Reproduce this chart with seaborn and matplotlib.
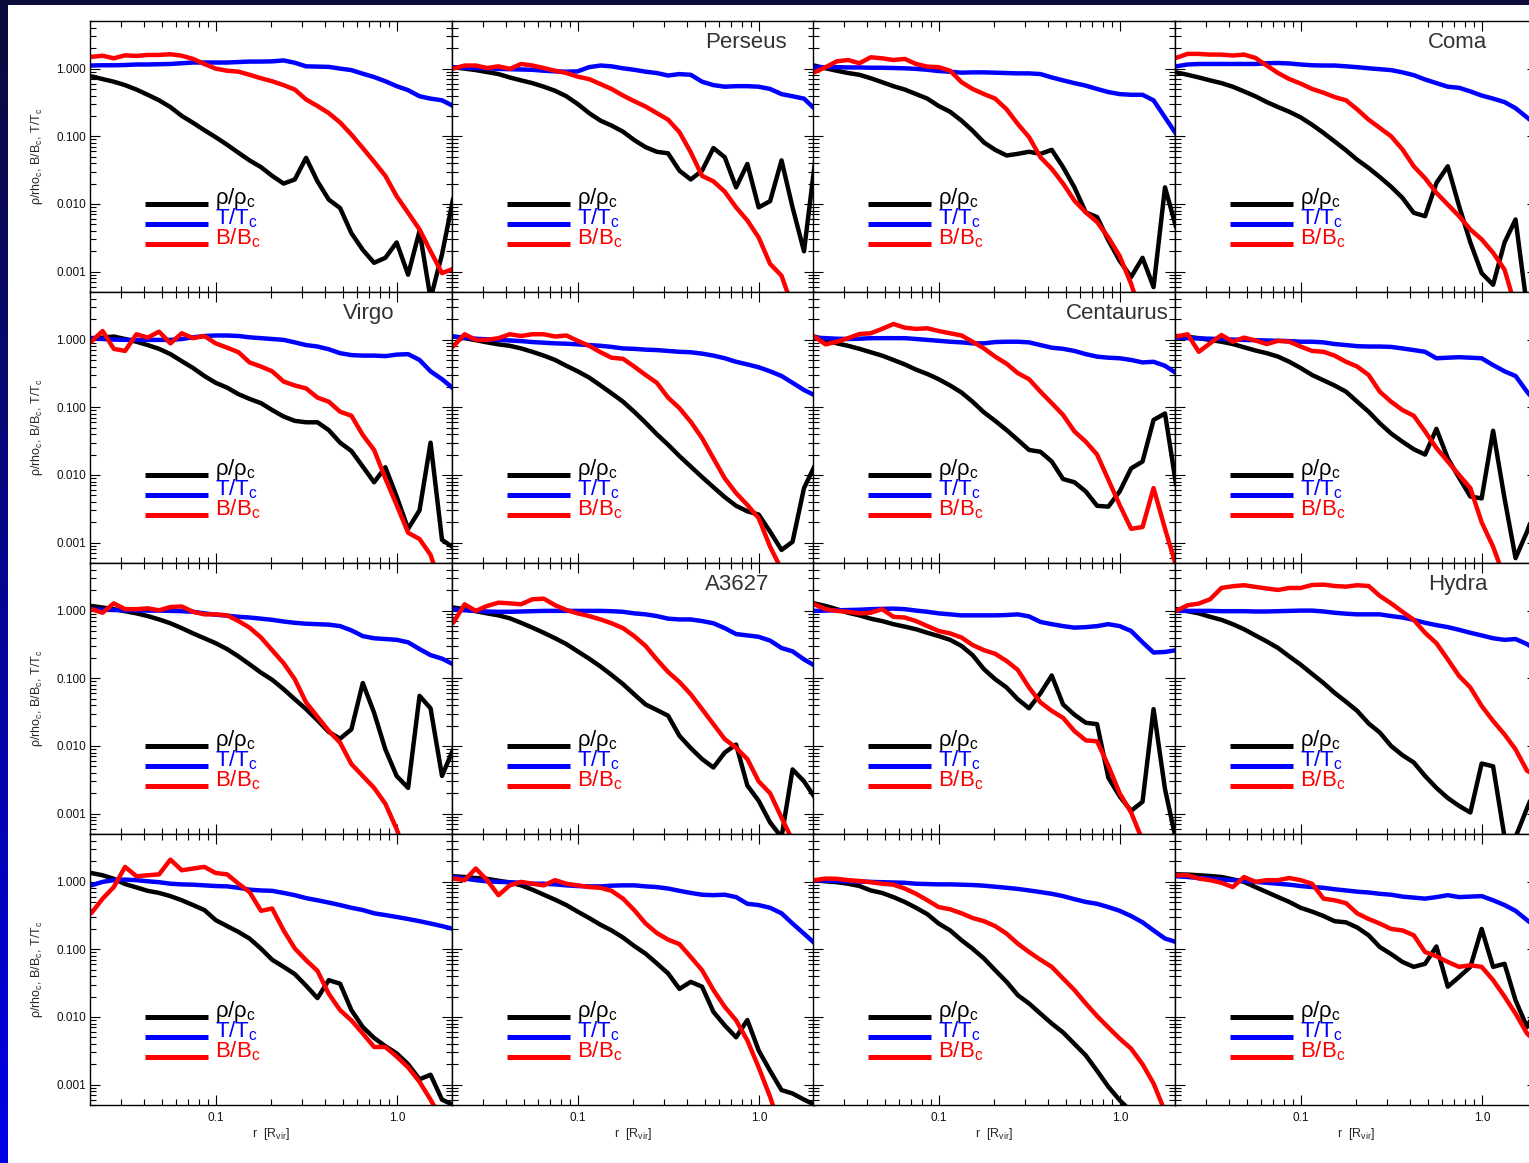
import numpy as np
import pandas as pd
import matplotlib
matplotlib.use("Agg")
import matplotlib.pyplot as plt
import seaborn as sns
from matplotlib.patches import Rectangle
from matplotlib.ticker import FixedLocator, FixedFormatter, NullFormatter

nan = np.nan

# radial bins in units of R_vir
r = [0.0204, 0.0236, 0.0272, 0.0314, 0.0363, 0.0419, 0.0484, 0.0559, 0.0646, 0.0746, 0.0861,
     0.0994, 0.115, 0.133, 0.153, 0.177, 0.204, 0.236, 0.272, 0.314, 0.363, 0.419,
     0.484, 0.559, 0.646, 0.746, 0.861, 0.994, 1.15, 1.33, 1.53, 1.77, 2.04]

# ---- row 0 ----
p00_rho = [0.77, 0.70, 0.64, 0.57, 0.49, 0.41, 0.34, 0.27, 0.20, 0.158, 0.123,
           0.097, 0.075, 0.057, 0.044, 0.035, 0.026, 0.020, 0.023, 0.048, 0.0216, 0.0116,
           0.0087, 0.0037, 0.0021, 0.00135, 0.0016, 0.0027, 0.0009, 0.004, 0.0004, 0.0018, 0.012]
p00_T = [1.11, 1.12, 1.12, 1.13, 1.15, 1.15, 1.16, 1.17, 1.20, 1.23, 1.23,
         1.23, 1.23, 1.25, 1.27, 1.27, 1.28, 1.32, 1.22, 1.08, 1.07, 1.06,
         1.0, 0.95, 0.84, 0.75, 0.65, 0.55, 0.48, 0.39, 0.36, 0.34, 0.28]
p00_B = [1.49, 1.55, 1.42, 1.57, 1.54, 1.59, 1.59, 1.63, 1.55, 1.39, 1.17,
         1.0, 0.93, 0.90, 0.81, 0.72, 0.65, 0.57, 0.49, 0.35, 0.28, 0.22,
         0.16, 0.106, 0.067, 0.042, 0.026, 0.013, 0.0074, 0.0042, 0.0020, 0.00095, 0.0011]

p01_rho = [1.05, 1.0, 0.95, 0.89, 0.83, 0.74, 0.67, 0.61, 0.54, 0.47, 0.39,
           0.30, 0.22, 0.17, 0.144, 0.117, 0.088, 0.069, 0.059, 0.056, 0.031, 0.023,
           0.031, 0.067, 0.049, 0.0176, 0.039, 0.0089, 0.011, 0.044, 0.0089, 0.0020, 0.044]
p01_T = [1.05, 1.03, 1.02, 1.01, 0.99, 0.98, 0.97, 0.96, 0.93, 0.91, 0.90,
         0.91, 1.05, 1.11, 1.08, 1.01, 0.96, 0.90, 0.86, 0.79, 0.83, 0.81,
         0.64, 0.57, 0.54, 0.55, 0.55, 0.54, 0.50, 0.42, 0.39, 0.36, 0.25]
p01_B = [1.0, 1.11, 1.11, 1.02, 1.08, 0.99, 1.17, 1.11, 1.02, 0.93, 0.86,
         0.76, 0.70, 0.59, 0.50, 0.40, 0.33, 0.275, 0.22, 0.176, 0.115, 0.058,
         0.026, 0.0216, 0.0152, 0.0089, 0.0057, 0.0032, 0.0013, 0.00087, 0.0003, nan, nan]

p02_rho = [1.11, 1.01, 0.93, 0.86, 0.81, 0.72, 0.63, 0.55, 0.49, 0.42, 0.36,
           0.28, 0.23, 0.17, 0.121, 0.081, 0.063, 0.052, 0.055, 0.059, 0.055, 0.063,
           0.035, 0.0176, 0.0075, 0.0064, 0.0029, 0.00145, 0.00083, 0.0016, 0.00059, 0.0176, 0.0045]
p02_T = [1.05, 1.05, 1.05, 1.04, 1.04, 1.03, 1.03, 1.02, 1.01, 0.99, 0.96,
         0.92, 0.90, 0.87, 0.88, 0.88, 0.87, 0.86, 0.85, 0.85, 0.83, 0.74,
         0.67, 0.61, 0.56, 0.50, 0.45, 0.42, 0.41, 0.41, 0.34, 0.19, 0.108]
p02_B = [0.88, 1.05, 1.28, 1.34, 1.20, 1.47, 1.42, 1.34, 1.39, 1.17, 1.07,
         1.05, 0.93, 0.63, 0.50, 0.42, 0.36, 0.25, 0.152, 0.097, 0.049, 0.033,
         0.020, 0.0112, 0.0075, 0.0054, 0.0032, 0.0017, 0.00066, 0.0002, nan, nan, nan]

p03_rho = [0.88, 0.81, 0.74, 0.67, 0.61, 0.54, 0.46, 0.39, 0.32, 0.27, 0.23,
           0.19, 0.148, 0.112, 0.084, 0.062, 0.045, 0.034, 0.025, 0.018, 0.0123, 0.0074,
           0.0066, 0.0204, 0.036, 0.0093, 0.0027, 0.00095, 0.00064, 0.0027, 0.0059, 0.0003, nan]
p03_T = [1.08, 1.15, 1.17, 1.17, 1.17, 1.17, 1.17, 1.17, 1.20, 1.21, 1.19,
         1.15, 1.12, 1.11, 1.11, 1.08, 1.05, 1.01, 0.98, 0.95, 0.88, 0.80,
         0.69, 0.61, 0.54, 0.52, 0.46, 0.40, 0.36, 0.32, 0.26, 0.19, 0.14]
p03_B = [1.44, 1.65, 1.65, 1.61, 1.61, 1.56, 1.61, 1.44, 1.11, 0.86, 0.70,
         0.60, 0.50, 0.44, 0.38, 0.34, 0.25, 0.176, 0.133, 0.10, 0.064, 0.036,
         0.024, 0.0146, 0.0098, 0.0066, 0.0042, 0.0030, 0.0019, 0.00107, 0.0003, nan, nan]

# ---- row 1 ----
p10_rho = [1.05, 1.07, 1.11, 1.02, 0.93, 0.83, 0.73, 0.61, 0.48, 0.38, 0.29,
           0.23, 0.195, 0.156, 0.133, 0.115, 0.091, 0.073, 0.063, 0.060, 0.060, 0.046,
           0.030, 0.0226, 0.0133, 0.0078, 0.013, 0.0048, 0.0016, 0.003, 0.03, 0.0011, 0.00085]
p10_T = [1.05, 1.02, 1.0, 0.99, 0.99, 0.99, 0.99, 0.99, 1.02, 1.08, 1.13,
         1.15, 1.15, 1.13, 1.08, 1.05, 1.02, 0.99, 0.91, 0.83, 0.79, 0.72,
         0.63, 0.59, 0.58, 0.58, 0.57, 0.60, 0.61, 0.50, 0.34, 0.26, 0.19]
p10_B = [0.93, 1.34, 0.73, 0.68, 1.20, 1.07, 1.31, 0.88, 1.24, 1.05, 1.13,
         0.88, 0.76, 0.65, 0.46, 0.40, 0.34, 0.24, 0.21, 0.19, 0.139, 0.121,
         0.086, 0.075, 0.039, 0.0234, 0.0089, 0.0036, 0.0014, 0.00113, 0.00066, 0.0002, nan]

p11_rho = [1.11, 1.05, 0.98, 0.91, 0.85, 0.81, 0.74, 0.66, 0.58, 0.50, 0.41,
           0.34, 0.275, 0.21, 0.161, 0.121, 0.086, 0.059, 0.040, 0.028, 0.019, 0.0133,
           0.0093, 0.0066, 0.0047, 0.0035, 0.0029, 0.0026, 0.00145, 0.00078, 0.00103, 0.0064, 0.0141]
p11_T = [1.11, 1.07, 1.03, 1.01, 0.99, 0.97, 0.95, 0.92, 0.90, 0.88, 0.87,
         0.85, 0.83, 0.81, 0.78, 0.74, 0.73, 0.71, 0.70, 0.68, 0.66, 0.65,
         0.62, 0.58, 0.53, 0.47, 0.43, 0.39, 0.34, 0.29, 0.23, 0.18, 0.149]
p11_B = [0.79, 1.20, 0.99, 0.99, 1.05, 1.20, 1.13, 1.20, 1.20, 1.11, 1.15,
         0.96, 0.81, 0.65, 0.54, 0.52, 0.40, 0.30, 0.23, 0.139, 0.097, 0.061,
         0.035, 0.0176, 0.0089, 0.0054, 0.0036, 0.0023, 0.00087, 0.0004, nan, nan, nan]

p12_rho = [1.11, 0.99, 0.88, 0.81, 0.73, 0.65, 0.58, 0.50, 0.43, 0.36, 0.31,
           0.26, 0.21, 0.165, 0.121, 0.084, 0.063, 0.046, 0.033, 0.0234, 0.022, 0.0158,
           0.0087, 0.0078, 0.0057, 0.0035, 0.0034, 0.0057, 0.0125, 0.0158, 0.065, 0.081, 0.0071]
p12_T = [1.07, 1.05, 1.03, 1.02, 1.03, 1.05, 1.05, 1.05, 1.05, 1.02, 0.99,
         0.96, 0.93, 0.91, 0.88, 0.88, 0.92, 0.93, 0.93, 0.91, 0.83, 0.76,
         0.73, 0.68, 0.61, 0.56, 0.54, 0.53, 0.50, 0.46, 0.47, 0.41, 0.32]
p12_B = [1.11, 0.85, 0.93, 1.05, 1.21, 1.24, 1.44, 1.70, 1.50, 1.44, 1.47,
         1.34, 1.24, 1.15, 0.93, 0.74, 0.56, 0.44, 0.32, 0.26, 0.17, 0.115,
         0.077, 0.044, 0.031, 0.020, 0.0085, 0.0036, 0.0016, 0.0017, 0.0064, 0.0016, 0.00045]

p13_rho = [1.13, 1.10, 1.05, 0.99, 0.93, 0.86, 0.77, 0.69, 0.63, 0.56, 0.47,
           0.38, 0.30, 0.25, 0.21, 0.17, 0.121, 0.086, 0.058, 0.041, 0.031, 0.024,
           0.020, 0.048, 0.0176, 0.0091, 0.0048, 0.0045, 0.045, 0.0045, 0.00059, 0.00145, 0.004]
p13_T = [1.07, 1.05, 1.04, 1.03, 1.02, 1.0, 0.99, 0.98, 0.97, 0.96, 0.95,
         0.93, 0.93, 0.91, 0.86, 0.83, 0.80, 0.79, 0.79, 0.78, 0.74, 0.70,
         0.66, 0.53, 0.54, 0.55, 0.54, 0.53, 0.42, 0.34, 0.29, 0.17, 0.108]
p13_B = [1.11, 1.20, 0.66, 0.88, 1.17, 0.93, 1.07, 0.97, 0.86, 0.96, 0.93,
         0.79, 0.68, 0.66, 0.58, 0.47, 0.40, 0.30, 0.17, 0.121, 0.091, 0.075,
         0.044, 0.025, 0.0158, 0.0100, 0.0064, 0.0020, 0.00087, 0.0003, nan, nan, nan]

# ---- row 2 ----
p20_rho = [1.17, 1.11, 1.05, 0.98, 0.91, 0.83, 0.74, 0.65, 0.55, 0.46, 0.39,
           0.33, 0.27, 0.21, 0.161, 0.121, 0.095, 0.069, 0.049, 0.035, 0.024, 0.0161,
           0.0128, 0.0176, 0.085, 0.031, 0.0089, 0.0036, 0.0024, 0.055, 0.036, 0.0036, 0.0089]
p20_T = [1.05, 1.03, 1.02, 1.01, 1.01, 1.0, 1.0, 0.99, 0.98, 0.96, 0.91,
         0.87, 0.84, 0.81, 0.79, 0.76, 0.73, 0.69, 0.66, 0.64, 0.63, 0.62,
         0.59, 0.51, 0.42, 0.39, 0.38, 0.37, 0.34, 0.27, 0.22, 0.195, 0.161]
p20_B = [1.05, 0.93, 1.28, 1.05, 1.05, 1.08, 1.01, 1.13, 1.15, 0.96, 0.88,
         0.88, 0.85, 0.70, 0.56, 0.40, 0.26, 0.167, 0.097, 0.044, 0.027, 0.0167,
         0.0112, 0.0054, 0.0036, 0.0024, 0.0014, 0.00059, 0.0002, nan, nan, nan, nan]

p21_rho = [1.11, 1.05, 0.98, 0.91, 0.85, 0.77, 0.66, 0.56, 0.47, 0.39, 0.32,
           0.25, 0.195, 0.149, 0.112, 0.082, 0.058, 0.041, 0.034, 0.028, 0.0141, 0.0093,
           0.0064, 0.0048, 0.008, 0.0105, 0.0026, 0.00155, 0.00074, 0.00045, 0.0045, 0.0030, 0.0017]
p21_T = [1.05, 1.01, 0.99, 0.97, 0.96, 0.96, 0.97, 0.98, 0.99, 0.99, 0.99,
         0.99, 0.99, 0.99, 0.98, 0.96, 0.91, 0.88, 0.83, 0.76, 0.74, 0.74,
         0.70, 0.65, 0.55, 0.45, 0.43, 0.41, 0.36, 0.28, 0.25, 0.19, 0.152]
p21_B = [0.66, 1.24, 0.99, 1.17, 1.31, 1.28, 1.24, 1.47, 1.50, 1.20, 1.02,
         0.91, 0.83, 0.74, 0.65, 0.55, 0.42, 0.30, 0.19, 0.124, 0.088, 0.058,
         0.035, 0.021, 0.0126, 0.0094, 0.0064, 0.0030, 0.0020, 0.00087, 0.0004, nan, nan]

p22_rho = [1.28, 1.17, 1.05, 0.93, 0.85, 0.76, 0.70, 0.63, 0.58, 0.53, 0.47,
           0.42, 0.37, 0.30, 0.22, 0.136, 0.097, 0.073, 0.049, 0.036, 0.06, 0.11,
           0.041, 0.029, 0.022, 0.021, 0.0034, 0.0018, 0.0011, 0.0015, 0.035, 0.0023, 0.0004]
p22_T = [0.99, 1.0, 1.01, 1.02, 1.03, 1.05, 1.06, 1.07, 1.05, 1.0, 0.96,
         0.91, 0.88, 0.85, 0.85, 0.85, 0.85, 0.86, 0.88, 0.82, 0.68, 0.63,
         0.59, 0.56, 0.57, 0.59, 0.63, 0.59, 0.50, 0.34, 0.24, 0.245, 0.26]
p22_B = [1.24, 1.05, 0.99, 0.96, 0.91, 0.93, 1.05, 0.81, 0.79, 0.70, 0.59,
         0.50, 0.46, 0.40, 0.31, 0.26, 0.23, 0.18, 0.133, 0.073, 0.044, 0.033,
         0.026, 0.0166, 0.0121, 0.0117, 0.0051, 0.0020, 0.00104, 0.0004, nan, nan, nan]

p23_rho = [1.05, 0.98, 0.91, 0.81, 0.73, 0.63, 0.53, 0.43, 0.35, 0.28, 0.21,
           0.159, 0.116, 0.085, 0.061, 0.045, 0.033, 0.0215, 0.0158, 0.0100, 0.0073, 0.0057,
           0.0036, 0.0024, 0.0017, 0.0013, 0.00104, 0.0055, 0.0050, 0.00045, 0.00045, 0.0012, 0.003]
p23_T = [0.99, 0.99, 0.99, 0.99, 0.98, 0.98, 0.98, 0.97, 0.97, 0.98, 0.99,
         1.0, 1.0, 0.97, 0.93, 0.90, 0.88, 0.88, 0.88, 0.83, 0.79, 0.73,
         0.66, 0.61, 0.57, 0.52, 0.47, 0.43, 0.39, 0.37, 0.38, 0.32, 0.25]
p23_B = [0.99, 1.20, 1.27, 1.47, 2.16, 2.29, 2.37, 2.24, 2.12, 2.02, 2.16,
         2.16, 2.39, 2.42, 2.31, 2.26, 2.37, 2.31, 1.65, 1.28, 0.96, 0.73,
         0.47, 0.33, 0.19, 0.108, 0.073, 0.039, 0.0234, 0.0148, 0.0089, 0.0043, 0.0035]

# ---- row 3 ----
p30_rho = [1.34, 1.24, 1.10, 0.92, 0.82, 0.73, 0.68, 0.61, 0.53, 0.45, 0.38,
           0.27, 0.22, 0.18, 0.144, 0.102, 0.070, 0.055, 0.043, 0.029, 0.019, 0.035,
           0.031, 0.0126, 0.0071, 0.0049, 0.0037, 0.0029, 0.0020, 0.0012, 0.0014, 0.0006, 0.0005]
p30_T = [0.88, 0.99, 1.05, 1.07, 1.05, 1.01, 0.98, 0.93, 0.91, 0.90, 0.88,
         0.86, 0.85, 0.81, 0.76, 0.74, 0.73, 0.68, 0.63, 0.57, 0.53, 0.49,
         0.45, 0.41, 0.38, 0.34, 0.32, 0.30, 0.28, 0.26, 0.24, 0.22, 0.20]
p30_B = [0.34, 0.56, 0.83, 1.65, 1.20, 1.24, 1.28, 2.11, 1.47, 1.56, 1.65,
         1.34, 1.28, 0.93, 0.70, 0.37, 0.40, 0.19, 0.103, 0.069, 0.048, 0.022,
         0.0126, 0.0089, 0.0057, 0.0036, 0.0036, 0.0026, 0.0018, 0.0011, 0.0006, 0.0003, nan]

p31_rho = [1.20, 1.17, 1.13, 1.10, 1.03, 0.97, 0.88, 0.76, 0.64, 0.54, 0.45,
           0.36, 0.29, 0.23, 0.19, 0.149, 0.112, 0.086, 0.062, 0.044, 0.026, 0.033,
           0.028, 0.0119, 0.0075, 0.0050, 0.009, 0.0032, 0.0016, 0.00083, 0.00074, 0.0006, 0.0005]
p31_T = [1.17, 1.11, 1.05, 1.01, 0.99, 0.98, 0.96, 0.93, 0.93, 0.91, 0.88,
         0.86, 0.85, 0.85, 0.87, 0.88, 0.88, 0.85, 0.83, 0.79, 0.73, 0.68,
         0.64, 0.63, 0.64, 0.59, 0.47, 0.45, 0.41, 0.34, 0.24, 0.17, 0.121]
p31_B = [1.11, 1.05, 1.56, 1.05, 0.63, 0.88, 0.99, 0.93, 0.88, 1.05, 0.93,
         0.88, 0.83, 0.81, 0.73, 0.56, 0.38, 0.24, 0.174, 0.139, 0.119, 0.077,
         0.049, 0.025, 0.0141, 0.0089, 0.0045, 0.0018, 0.00066, 0.0002, nan, nan, nan]

p32_rho = [1.05, 1.01, 0.98, 0.93, 0.86, 0.74, 0.68, 0.59, 0.50, 0.41, 0.33,
           0.24, 0.19, 0.136, 0.102, 0.073, 0.049, 0.033, 0.021, 0.0158, 0.0112, 0.0080,
           0.0059, 0.0040, 0.0027, 0.0016, 0.00093, 0.00059, 0.0004, nan, nan, nan, nan]
p32_T = [1.05, 1.03, 1.02, 1.01, 1.0, 0.99, 0.98, 0.97, 0.96, 0.93, 0.92,
         0.91, 0.91, 0.90, 0.89, 0.87, 0.84, 0.81, 0.78, 0.74, 0.70, 0.66,
         0.61, 0.55, 0.50, 0.47, 0.42, 0.37, 0.31, 0.25, 0.19, 0.144, 0.128]
p32_B = [1.05, 1.11, 1.10, 1.05, 1.02, 0.98, 0.93, 0.90, 0.79, 0.66, 0.53,
         0.42, 0.39, 0.34, 0.29, 0.26, 0.22, 0.17, 0.121, 0.091, 0.070, 0.055,
         0.037, 0.025, 0.0158, 0.0103, 0.0070, 0.0048, 0.0034, 0.0020, 0.00104, 0.0004, nan]

p33_rho = [1.28, 1.27, 1.24, 1.21, 1.17, 1.08, 0.99, 0.83, 0.70, 0.59, 0.50,
           0.41, 0.36, 0.31, 0.26, 0.25, 0.21, 0.161, 0.108, 0.085, 0.065, 0.055,
           0.061, 0.11, 0.028, 0.039, 0.055, 0.2, 0.055, 0.061, 0.0176, 0.0071, 0.015]
p33_T = [1.20, 1.17, 1.13, 1.11, 1.07, 1.05, 1.02, 0.99, 0.96, 0.93, 0.90,
         0.86, 0.83, 0.81, 0.77, 0.74, 0.71, 0.69, 0.66, 0.64, 0.60, 0.58,
         0.56, 0.59, 0.63, 0.59, 0.60, 0.61, 0.53, 0.45, 0.37, 0.27, 0.20]
p33_B = [1.24, 1.24, 1.11, 1.05, 0.96, 0.83, 1.17, 0.99, 1.05, 1.05, 1.13,
         1.05, 0.93, 0.56, 0.53, 0.48, 0.34, 0.28, 0.24, 0.20, 0.19, 0.161,
         0.091, 0.079, 0.065, 0.055, 0.058, 0.055, 0.035, 0.020, 0.0112, 0.0057, 0.004]

cluster_names = [["", "Perseus", "", "Coma"],
                 ["Virgo", "", "Centaurus", ""],
                 ["", "A3627", "", "Hydra"],
                 ["", "", "", ""]]

panels = [[(p00_rho, p00_T, p00_B), (p01_rho, p01_T, p01_B), (p02_rho, p02_T, p02_B), (p03_rho, p03_T, p03_B)],
          [(p10_rho, p10_T, p10_B), (p11_rho, p11_T, p11_B), (p12_rho, p12_T, p12_B), (p13_rho, p13_T, p13_B)],
          [(p20_rho, p20_T, p20_B), (p21_rho, p21_T, p21_B), (p22_rho, p22_T, p22_B), (p23_rho, p23_T, p23_B)],
          [(p30_rho, p30_T, p30_B), (p31_rho, p31_T, p31_B), (p32_rho, p32_T, p32_B), (p33_rho, p33_T, p33_B)]]

quantities = ["rho", "T", "B"]
palette = {"rho": "#000000", "T": "#0000ff", "B": "#ff0000"}
legend_text = {"rho": r"ρ/ρ$_{\rm c}$", "T": r"T/T$_{\rm c}$", "B": r"B/B$_{\rm c}$"}

sns.set_style("ticks")
plt.rcParams["font.family"] = ["Liberation Sans", "DejaVu Sans"]
plt.rcParams["mathtext.fontset"] = "custom"
plt.rcParams["mathtext.rm"] = "Liberation Sans"
plt.rcParams["mathtext.it"] = "Liberation Sans:italic"
plt.rcParams["mathtext.bf"] = "Liberation Sans:bold"

W, H = 1529, 1163
fig = plt.figure(figsize=(W / 100, H / 100), dpi=100)

# slide backdrop: dark-to-bright blue band behind a white page
bg = fig.add_axes([0, 0, 1, 1], zorder=-10)
t = np.linspace(0, 1, 256)[:, None, None]
top_c = np.array([12, 12, 58]) / 255.0
bot_c = np.array([0, 0, 232]) / 255.0
grad = top_c * (1 - t) + bot_c * t
bg.imshow(grad, aspect="auto", extent=[0, 1, 0, 1], origin="upper")
bg.add_patch(Rectangle((8 / W, 0), 1, 1 - 5 / H, transform=bg.transAxes,
                       facecolor="white", edgecolor="none"))
bg.set_xlim(0, 1)
bg.set_ylim(0, 1)
bg.axis("off")

col_left = [90, 452, 813, 1175]
row_top = [21, 292, 563, 834]
pw, ph = 362, 271

x_major = [0.1, 1.0]
x_minor = [0.02, 0.03, 0.04, 0.05, 0.06, 0.07, 0.08, 0.09,
           0.2, 0.3, 0.4, 0.5, 0.6, 0.7, 0.8, 0.9, 2.0]
y_major = [0.001, 0.01, 0.1, 1.0]
y_minor = [m * 10.0 ** e for e in range(-4, 1) for m in range(2, 10)]

for i in range(4):
    for j in range(4):
        ax = fig.add_axes([col_left[j] / W, 1 - (row_top[i] + ph) / H, pw / W, ph / H])
        ax.set_xscale("log")
        ax.set_yscale("log")
        rho_v, T_v, B_v = panels[i][j]
        df = pd.DataFrame({
            "r": r * 3,
            "value": list(rho_v) + list(T_v) + list(B_v),
            "quantity": ["rho"] * len(r) + ["T"] * len(r) + ["B"] * len(r),
        })
        sns.lineplot(data=df, x="r", y="value", hue="quantity", hue_order=quantities,
                     palette=palette, estimator=None, sort=False, legend=False,
                     linewidth=3.2, ax=ax)
        ax.set_xlim(0.0201, 2.01)
        ax.set_ylim(5.0e-4, 5.05)

        ax.xaxis.set_major_locator(FixedLocator(x_major))
        ax.xaxis.set_minor_locator(FixedLocator(x_minor))
        ax.yaxis.set_major_locator(FixedLocator(y_major))
        ax.yaxis.set_minor_locator(FixedLocator(y_minor))
        ax.xaxis.set_minor_formatter(NullFormatter())
        ax.yaxis.set_minor_formatter(NullFormatter())
        ax.xaxis.set_major_formatter(FixedFormatter(["0.1", "1.0"]))
        ax.yaxis.set_major_formatter(FixedFormatter(["0.001", "0.010", "0.100", "1.000"]))
        ax.tick_params(which="both", direction="in", top=True, right=True,
                       width=0.8, color="black", labelsize=8.5, labelcolor="#111111")
        ax.tick_params(which="major", length=7)
        ax.tick_params(which="minor", length=4)
        ax.tick_params(axis="x", pad=5)
        ax.tick_params(axis="y", pad=3)
        ax.tick_params(labelbottom=(i == 3), labelleft=(j == 0))
        for s in ax.spines.values():
            s.set_linewidth(1.0)
            s.set_color("black")

        if j == 0:
            ax.set_ylabel(r"ρ/rho$_{\rm c}$, B/B$_{\rm c}$, T/T$_{\rm c}$", fontsize=9)
            ax.yaxis.set_label_coords(-0.124, 0.5)
        else:
            ax.set_ylabel("")
        if i == 3:
            ax.set_xlabel(r"r  [R$_{\rm vir}$]", fontsize=9)
            ax.xaxis.set_label_coords(0.5, -0.077)
        else:
            ax.set_xlabel("")

        name = cluster_names[i][j]
        if name:
            ax.text(0.5, 2.0, name, fontsize=16, color="#333333",
                    ha="left", va="baseline")

        # key: line samples with labels
        for q, yf in zip(quantities, [0.325, 0.251, 0.177]):
            ax.plot([0.152, 0.326], [yf, yf], transform=ax.transAxes,
                    color=palette[q], lw=3.6, solid_capstyle="butt")
            ax.text(0.345, yf, legend_text[q], transform=ax.transAxes,
                    color=palette[q], fontsize=16, ha="left", va="baseline")

fig.savefig("out.png", dpi=100)
